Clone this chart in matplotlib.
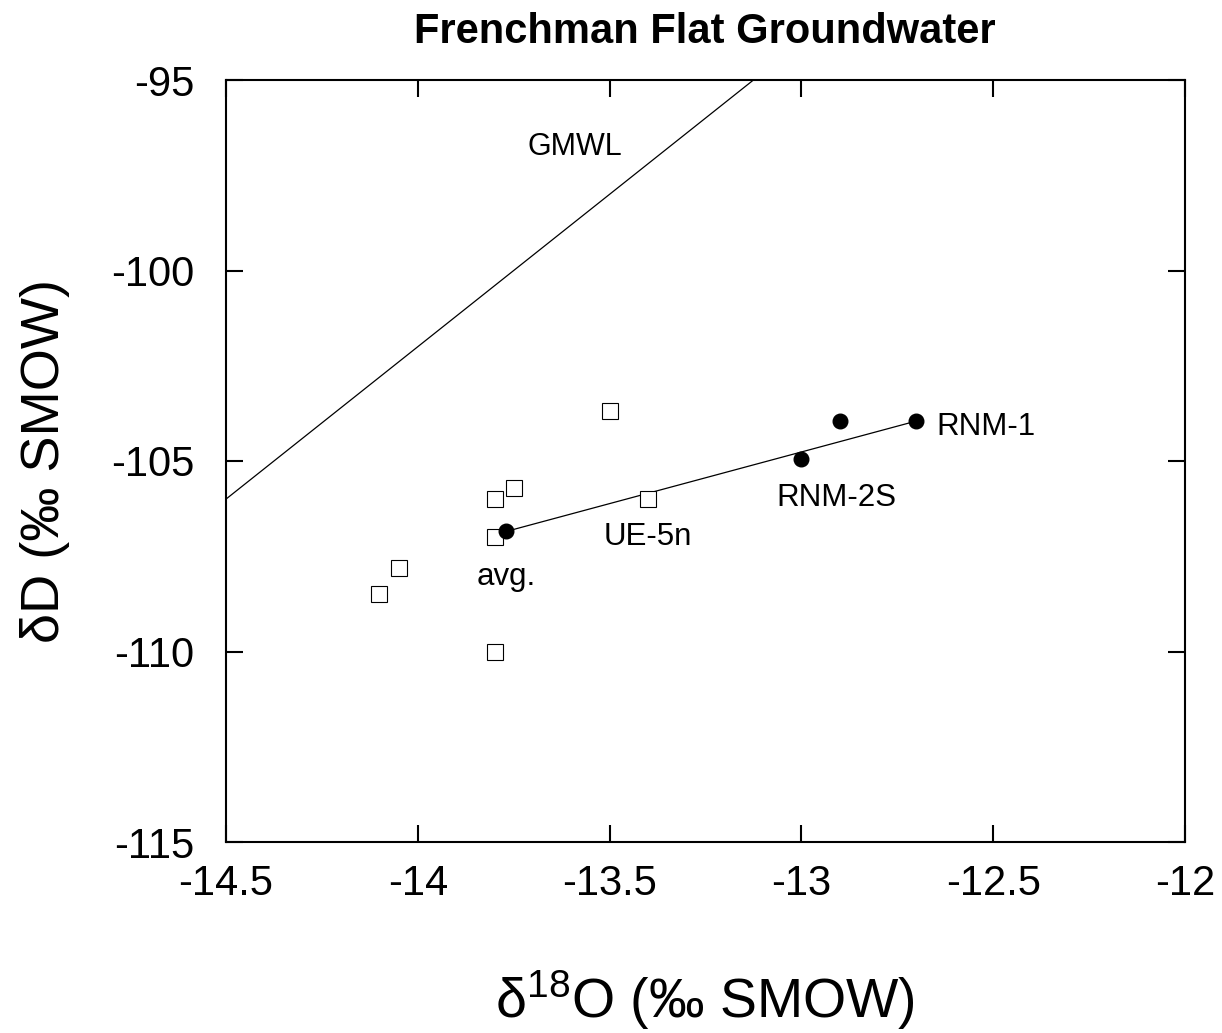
import numpy as np
import matplotlib
matplotlib.use("Agg")
import matplotlib.pyplot as plt

plt.rcParams['font.family'] = ['Liberation Sans', 'DejaVu Sans']
plt.rcParams['mathtext.fontset'] = 'custom'
plt.rcParams['mathtext.rm'] = 'Liberation Sans'
plt.rcParams['mathtext.it'] = 'Liberation Sans:italic'
plt.rcParams['mathtext.bf'] = 'Liberation Sans:bold'

# Frenchman Flat groundwater samples (open squares)
gw_d18o = [-13.5, -13.8, -13.75, -13.8, -14.05, -14.1, -13.8, -13.4]
gw_dD = [-103.7, -106.0, -105.7, -107.0, -107.8, -108.5, -110.0, -106.0]

# Cavity / average points (filled circles)
pt_d18o = [-12.7, -12.9, -13.0, -13.77]
pt_dD = [-103.95, -103.95, -104.95, -106.85]

# Mixing line: avg. -> RNM-1
mix_d18o = [-13.77, -12.7]
mix_dD = [-106.85, -103.95]

# Global meteoric water line: dD = 8*d18O + 10
gmwl_x = np.array([-14.5, -12.0])
gmwl_y = 8 * gmwl_x + 10

labels = ["GMWL", "RNM-1", "RNM-2S", "UE-5n", "avg."]
label_x = [-13.59, -12.52, -12.91, -13.40, -13.77]
label_y = [-96.75, -104.1, -105.97, -107.0, -108.05]
label_size = [22, 22.5, 22.5, 22.5, 22.5]

xticks = [-14.5, -14, -13.5, -13, -12.5, -12]
xticklabels = ["-14.5", "-14", "-13.5", "-13", "-12.5", "-12"]
yticks = [-115, -110, -105, -100, -95]
yticklabels = ["-115", "-110", "-105", "-100", "-95"]

fig = plt.figure(figsize=(12.22, 10.33), dpi=100)
ax = fig.add_axes([226/1222, 1 - 842/1033, (1185-226)/1222, (842-80)/1033])

ax.plot(gmwl_x, gmwl_y, color='black', lw=0.9)
ax.plot(mix_d18o, mix_dD, color='black', lw=0.9)
ax.plot(gw_d18o, gw_dD, linestyle='none', marker='s', markersize=11.5,
        markerfacecolor='white', markeredgecolor='black', markeredgewidth=0.8, zorder=3)
ax.plot(pt_d18o, pt_dD, linestyle='none', marker='o', markersize=10.5,
        color='black', zorder=4)

for t, x, y, s in zip(labels, label_x, label_y, label_size):
    ax.text(x, y, t, ha='center', va='center', fontsize=s)

ax.set_xlim(-14.5, -12)
ax.set_ylim(-115, -95)
ax.set_xticks(xticks)
ax.set_xticklabels(xticklabels)
ax.set_yticks(yticks)
ax.set_yticklabels(yticklabels)
ax.tick_params(direction='in', length=12, width=1.5, top=True, right=True,
               labelsize=30)
ax.tick_params(axis='x', pad=16)
ax.tick_params(axis='y', pad=23)
for sp in ax.spines.values():
    sp.set_linewidth(1.5)

fig.text(705/1222, 1 - 43/1033, "Frenchman Flat Groundwater", ha='center', va='baseline',
         fontsize=30, fontweight='bold')
fig.text(705/1222, 1 - 1000/1033, r"$\mathrm{δ}^{18}$O (‰ SMOW)", ha='center', va='center',
         fontsize=40)
fig.text(45/1222, 1 - 461/1033, "δD (‰ SMOW)", ha='center', va='center',
         fontsize=39, rotation=90)

fig.savefig("out.png", dpi=100)
